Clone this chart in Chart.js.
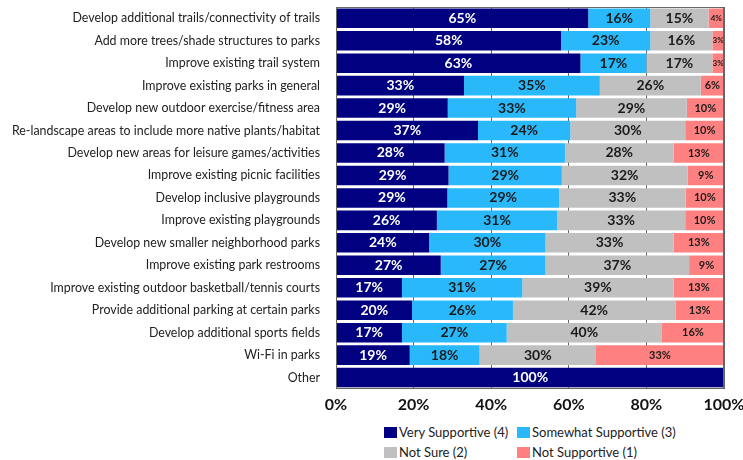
<!DOCTYPE html>
<html>
<head>
<meta charset="utf-8">
<script src="https://cdn.jsdelivr.net/npm/chart.js@4"></script>
<style>
  body { margin: 0; background: #fff; }
  #wrap { position: relative; width: 743px; height: 460px; }
  #legend { position: absolute; left: 384px; top: 424px; width: 350px; font-family: Lato, "Open Sans", sans-serif; font-size: 13px; color: #222; }
  .item { position: absolute; white-space: nowrap; }
  .item span { display: inline-block; width: 13px; height: 11px; margin-right: 2px; vertical-align: -1px; }
</style>
</head>
<body>
<div id="wrap">
  <canvas id="chart" width="743" height="420"></canvas>
  <div id="legend"></div>
</div>
<script>
const categories = [
  "Develop additional trails/connectivity of trails",
  "Add more trees/shade structures to parks",
  "Improve existing trail system",
  "Improve existing parks in general",
  "Develop new outdoor exercise/fitness area",
  "Re-landscape areas to include more native plants/habitat",
  "Develop new areas for leisure games/activities",
  "Improve existing picnic facilities",
  "Develop inclusive playgrounds",
  "Improve existing playgrounds",
  "Develop new smaller neighborhood parks",
  "Improve existing park restrooms",
  "Improve existing outdoor basketball/tennis courts",
  "Provide additional parking at certain parks",
  "Develop additional sports fields",
  "Wi-Fi in parks",
  "Other"
];

const verySupportive = [65, 58, 63, 33, 28.8, 36.6, 28, 29.0, 28.7, 26, 24, 27, 17, 19.6, 17, 19, 100];
const somewhatSupportive = [16, 23, 17, 35, 33.1, 23.8, 31, 29.2, 28.8, 31, 30, 27, 31, 26.0, 27, 18, 0];
const notSure = [15, 16, 17, 26, 28.5, 29.6, 28, 32.4, 32.6, 33, 33, 37, 39, 41.9, 40, 30, 0];
const notSupportive = [4, 3, 3, 6, 9.6, 10.0, 13, 9.4, 9.9, 10, 13, 9, 13, 12.5, 16, 33, 0];

const xTicks = ["0%", "20%", "40%", "60%", "80%", "100%"];

const seriesNames = ["Very Supportive (4)", "Somewhat Supportive (3)", "Not Sure (2)", "Not Supportive (1)"];
const colors = ["#000080", "#29b9fb", "#c0c0c0", "#ff8080"];
const textColors = ["#ffffff", "#1a1a1a", "#1a1a1a", "#1a1a1a"];

const font = "Lato, 'Open Sans', sans-serif";

// draws the percent text in the middle of each segment
const barLabels = {
  id: "barLabels",
  afterDatasetsDraw(chart) {
    const ctx = chart.ctx;
    ctx.save();
    ctx.textAlign = "center";
    ctx.textBaseline = "middle";
    chart.data.datasets.forEach((ds, i) => {
      chart.getDatasetMeta(i).data.forEach((bar, j) => {
        const v = ds.data[j];
        if (!v) return;
        let size = 14;
        if (i === 3) size = v < 5 ? 8 : 11;
        ctx.font = "bold " + size + "px " + font;
        ctx.fillStyle = textColors[i];
        ctx.fillText(Math.round(v) + "%", (bar.base + bar.x) / 2, bar.y);
      });
    });
    ctx.restore();
  }
};

new Chart(document.getElementById("chart"), {
  type: "bar",
  data: {
    labels: categories,
    datasets: seriesNames.map((name, i) => ({
      label: name,
      data: [verySupportive, somewhatSupportive, notSure, notSupportive][i],
      backgroundColor: colors[i],
      borderWidth: 0,
      categoryPercentage: 0.87,
      barPercentage: 1
    }))
  },
  options: {
    indexAxis: "y",
    responsive: false,
    animation: false,
    layout: { padding: { left: 6, right: 19, top: 7, bottom: 0 } },
    plugins: { legend: { display: false }, tooltip: { enabled: false } },
    scales: {
      x: {
        stacked: true,
        min: 0,
        max: 100,
        afterFit: (scale) => { scale.paddingLeft = 0; scale.paddingRight = 0; },
        ticks: {
          stepSize: 20,
          callback: (v) => xTicks[v / 20],
          color: "#111",
          font: { family: font, size: 16, weight: "bold" },
          padding: 6
        },
        grid: { color: "#666", drawTicks: false },
        border: { color: "#666" }
      },
      y: {
        stacked: true,
        afterFit: (scale) => { scale.width = 330; scale.paddingTop = 0; scale.paddingBottom = 0; },
        ticks: { color: "#222", font: { family: font, size: 12.4 }, padding: 8, autoSkip: false },
        grid: { display: false },
        border: { color: "#666" }
      }
    }
  },
  plugins: [barLabels, {
    id: "frame",
    afterDraw(chart) {
      const a = chart.chartArea, ctx = chart.ctx;
      ctx.save();
      ctx.strokeStyle = "#666";
      ctx.lineWidth = 1;
      ctx.strokeRect(a.left + 0.5, a.top + 0.5, a.right - a.left - 1, a.bottom - a.top - 1);
      ctx.restore();
    }
  }]
});

// legend: two columns, two rows
const legendPos = [[0, 0], [133, 0], [0, 20], [133, 20]];
const legend = document.getElementById("legend");
seriesNames.forEach((name, i) => {
  const d = document.createElement("div");
  d.className = "item";
  d.style.left = legendPos[i][0] + "px";
  d.style.top = legendPos[i][1] + "px";
  d.innerHTML = '<span style="background:' + colors[i] + '"></span>' + name;
  legend.appendChild(d);
});
</script>
</body>
</html>
